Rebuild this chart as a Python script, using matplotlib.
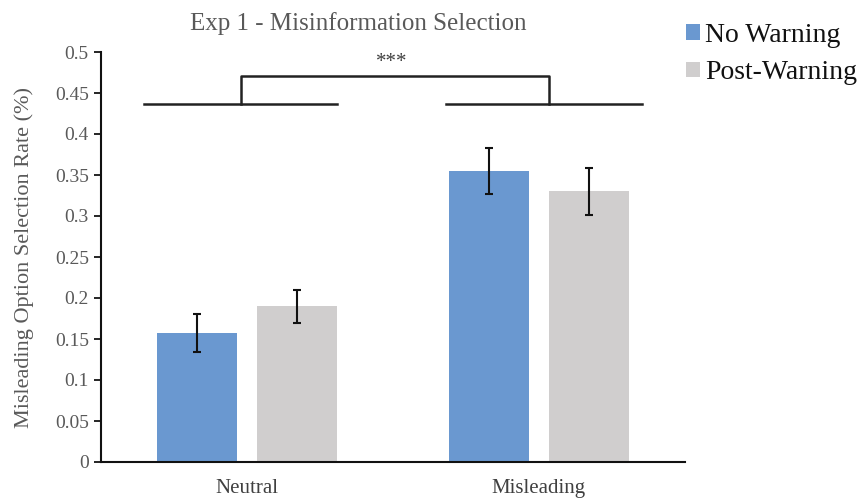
import matplotlib.pyplot as plt
import numpy as np

plt.rcParams['font.family'] = ['Liberation Serif', 'DejaVu Serif']

categories = ['Neutral', 'Misleading']
series = ['No Warning', 'Post-Warning']
no_warning = [0.157, 0.355]
post_warning = [0.190, 0.330]
no_warning_err = [0.023, 0.028]
post_warning_err = [0.020, 0.029]
colors = ['#6A98D0', '#D0CECE']
sig_label = '***'

fig = plt.figure(figsize=(8.64, 5), dpi=100)
ax = fig.add_axes([0.1165, 0.076, 0.676, 0.82])

x = np.arange(len(categories))
w = 0.274
off = 0.171
ekw = dict(ecolor='#111111', elinewidth=1.5, capsize=3, capthick=1.5)
b1 = ax.bar(x - off, no_warning, w, color=colors[0], yerr=no_warning_err,
            error_kw=ekw, label=series[0])
b2 = ax.bar(x + off, post_warning, w, color=colors[1], yerr=post_warning_err,
            error_kw=ekw, label=series[1])

# significance bracket
y_low, y_high = 0.4365, 0.4705
lx, rx = x[0] - 0.02, x[1] + 0.034
ax.plot([lx - 0.33, lx + 0.33], [y_low, y_low], color='#222222', lw=1.8)
ax.plot([rx - 0.35, rx + 0.32], [y_low, y_low], color='#222222', lw=1.8)
ax.plot([lx, lx, rx, rx], [y_low, y_high, y_high, y_low], color='#222222', lw=1.8)
ax.text((lx + rx) / 2 - 0.01, 0.476, sig_label, ha='center', va='bottom',
        fontsize=15, color='#404040')

ax.set_xlim(-0.5, 1.5)
ax.set_ylim(0, 0.5)
ax.set_yticks(np.arange(0, 0.501, 0.05))
ax.set_yticklabels(['0'] + ['%g' % v for v in np.arange(0.05, 0.501, 0.05)])
ax.set_xticks(x)
ax.set_xticklabels(categories)
ax.tick_params(axis='x', length=0, pad=12, labelsize=15, labelcolor='#404040')
ax.tick_params(axis='y', length=5, width=1.2, direction='out', labelsize=14,
               labelcolor='#595959')
for s in ['top', 'right']:
    ax.spines[s].set_visible(False)
for s in ['left', 'bottom']:
    ax.spines[s].set_linewidth(1.5)
    ax.spines[s].set_color('#111111')

ax.set_ylabel('Misleading Option Selection Rate (%)', fontsize=16, color='#595959',
              labelpad=15)
fig.text(0.415, 0.953, 'Exp 1 - Misinformation Selection', ha='center', va='center',
         fontsize=18, color='#595959')

fig.legend(handles=[b1, b2], labels=series, loc='upper left',
           bbox_to_anchor=(0.765, 1.005), frameon=False, fontsize=20,
           handlelength=0.5, handleheight=0.5, handletextpad=0.2,
           labelspacing=0.46, labelcolor='#111111')

fig.savefig('out.png', dpi=100)
